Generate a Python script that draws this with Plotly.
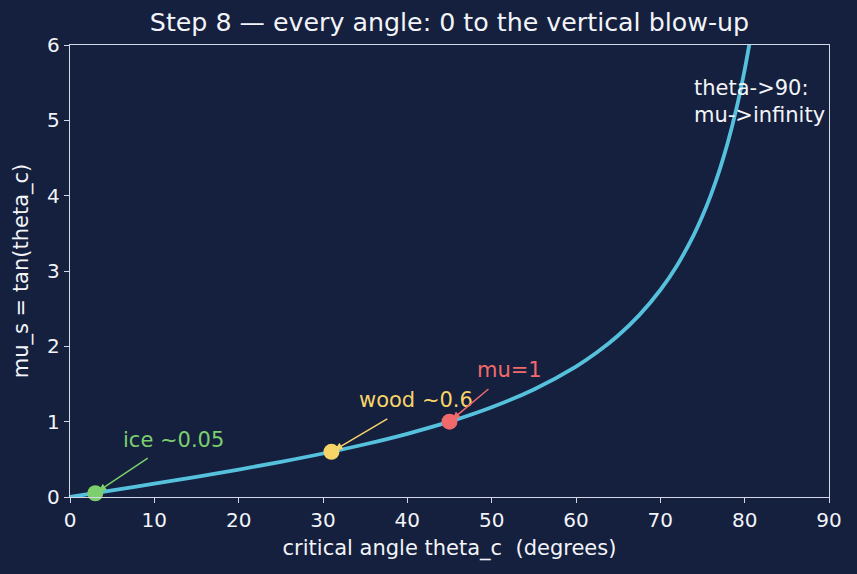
import plotly.graph_objects as go

# Curve samples: critical angle (deg) and mu_s = tan(theta_c)
theta = [0, 5, 10, 15, 20, 25, 30, 35, 40, 45, 50, 55, 60, 62.5, 65, 67.5, 70,
         72, 74, 75, 76, 77, 78, 79, 80, 80.5, 81]
mu = [0.0, 0.0875, 0.1763, 0.2679, 0.3640, 0.4663, 0.5774, 0.7002, 0.8391, 1.0,
      1.1918, 1.4281, 1.7321, 1.9210, 2.1445, 2.4142, 2.7475, 3.0777, 3.4874,
      3.7321, 4.0108, 4.3315, 4.7046, 5.1446, 5.6713, 5.9758, 6.3138]

# Highlighted materials
pt_labels = ["ice ~0.05", "wood ~0.6", "mu=1"]
pt_theta = [3, 31, 45]
pt_mu = [0.05, 0.6, 1.0]
pt_colors = ["#7ccf6c", "#f7d468", "#f2696b"]
label_pos_x = [6, 34, 48]
label_pos_y = [0.57, 1.1, 1.5]
arrow_from_x = [9.4, 37.8, 49.8]
arrow_from_y = [0.53, 1.05, 1.45]

x_ticks = [0, 10, 20, 30, 40, 50, 60, 70, 80, 90]
y_ticks = [0, 1, 2, 3, 4, 5, 6]

BG = "#151f3e"
FG = "#f2f4f8"
SPINE = "#d2d8e6"
FONT = "DejaVu Sans"

fig = go.Figure()
fig.add_trace(go.Scatter(x=theta, y=mu, mode="lines", line=dict(color="#56c1dc", width=3.8, shape="spline"),
                         hoverinfo="skip", showlegend=False))
fig.add_trace(go.Scatter(x=pt_theta, y=pt_mu, mode="markers",
                         marker=dict(color=pt_colors, size=16, line=dict(width=0)),
                         showlegend=False, cliponaxis=False))

annotations = []
for lab, px, py, c, lx, ly, ax, ay in zip(pt_labels, pt_theta, pt_mu, pt_colors,
                                          label_pos_x, label_pos_y, arrow_from_x, arrow_from_y):
    annotations.append(dict(x=lx, y=ly, xref="x", yref="y", text=lab, showarrow=False,
                            xanchor="left", yanchor="bottom", font=dict(color=c, size=21, family=FONT)))
    annotations.append(dict(x=px, y=py, xref="x", yref="y", ax=ax, ay=ay, axref="x", ayref="y",
                            text="", showarrow=True, arrowhead=2, arrowsize=1, arrowwidth=1.5,
                            arrowcolor=c, standoff=4))
annotations.append(dict(x=73.8, y=4.89, xref="x", yref="y", text="theta->90:<br>mu->infinity",
                        showarrow=False, xanchor="left", yanchor="bottom", align="left",
                        font=dict(color=FG, size=21, family=FONT)))

fig.update_layout(
    width=857, height=574,
    paper_bgcolor=BG, plot_bgcolor=BG,
    margin=dict(l=70, r=28, t=45, b=77),
    font=dict(family=FONT, color=FG, size=20),
    title=dict(text="Step 8 — every angle: 0 to the vertical blow-up", x=0.5, xref="paper",
               y=0.961, yref="container", xanchor="center", yanchor="middle",
               font=dict(size=25.3, color=FG, family=FONT)),
    annotations=annotations,
)
fig.update_xaxes(range=[0, 90], tickvals=x_ticks, showgrid=False, zeroline=False,
                 showline=True, mirror=True, linecolor=SPINE, linewidth=1.4,
                 ticks="outside", ticklen=5, tickcolor=SPINE, tickwidth=1.4,
                 tickfont=dict(size=20, color=FG),
                 title=dict(text="critical angle theta_c  (degrees)", font=dict(size=21, color=FG), standoff=9))
fig.update_yaxes(range=[0, 6], tickvals=y_ticks, showgrid=False, zeroline=False,
                 showline=True, mirror=True, linecolor=SPINE, linewidth=1.4,
                 ticks="outside", ticklen=5, tickcolor=SPINE, tickwidth=1.4,
                 tickfont=dict(size=20, color=FG),
                 title=dict(text="mu_s = tan(theta_c)", font=dict(size=21, color=FG), standoff=12))

fig.write_html("out.html")
